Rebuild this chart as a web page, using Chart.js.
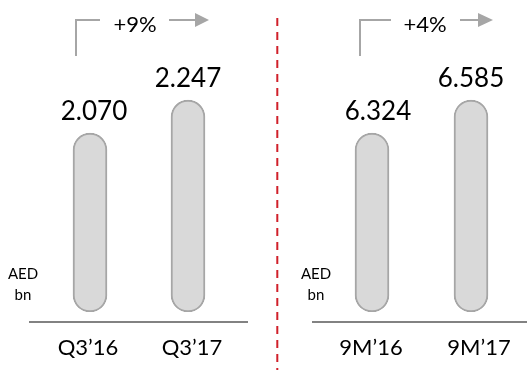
<!DOCTYPE html>
<html>
<head>
<meta charset="utf-8">
<script src="https://cdn.jsdelivr.net/npm/chart.js@4/dist/chart.umd.min.js"></script>
<style>
  html, body { margin: 0; padding: 0; background: #ffffff; }
  #wrap { position: relative; width: 527px; height: 370px; overflow: hidden; }
  #left { position: absolute; left: 0; top: 0; }
  #right { position: absolute; left: 263px; top: 0; }
</style>
</head>
<body>
<div id="wrap">
  <canvas id="left" width="263" height="370"></canvas>
  <canvas id="right" width="264" height="370"></canvas>
</div>
<script>
// ---- data ----
const leftCategories = ["Q3\u201916", "Q3\u201917"];
const leftValues = [2.070, 2.247];
const rightCategories = ["9M\u201916", "9M\u201917"];
const rightValues = [6.324, 6.585];
const growthLabels = ["+9%", "+4%"];
const unitLines = ["AED", "bn"];

// ---- styles ----
const FONT = "Lato, 'Open Sans', 'Liberation Sans', sans-serif";
const BAR_FILL = "#d9d9d9";
const BAR_BORDER = "#a6a6a6";
const ARROW = "#a6a6a6";
const TEXT = "#000000";

function makeAnnotations(cfg) {
  return {
    id: "annot",
    afterDatasetsDraw(chart) {
      const ctx = chart.ctx;
      const meta = chart.getDatasetMeta(0);
      const xs = chart.scales.x;
      ctx.save();
      // value labels
      ctx.fillStyle = TEXT;
      ctx.font = "26px " + FONT;
      ctx.textAlign = "center";
      ctx.textBaseline = "alphabetic";
      meta.data.forEach((bar, i) => {
        const v = chart.data.datasets[0].data[i];
        ctx.fillText(v.toFixed(3), bar.x + cfg.valShift[i], bar.y - 13);
      });
      // category labels
      ctx.font = "22px " + FONT;
      chart.data.labels.forEach((lab, i) => {
        ctx.fillText(lab, xs.getPixelForValue(i) + cfg.catShift[i], 355);
      });
      // baseline
      ctx.strokeStyle = "#595959";
      ctx.lineWidth = 1.3;
      ctx.beginPath();
      ctx.moveTo(cfg.baseFrom, 322);
      ctx.lineTo(cfg.baseTo, 322);
      ctx.stroke();
      // unit
      ctx.font = "15px " + FONT;
      ctx.fillText(unitLines[0], cfg.unitX, 279);
      ctx.fillText(unitLines[1], cfg.unitX, 300);
      // growth bracket + arrow
      const b0 = meta.data[0].x;
      ctx.strokeStyle = ARROW;
      ctx.lineWidth = 2;
      ctx.beginPath();
      ctx.moveTo(b0 + cfg.brX, 56);
      ctx.lineTo(b0 + cfg.brX, 20);
      ctx.lineTo(b0 + cfg.brX + cfg.brLen, 20);
      ctx.stroke();
      ctx.font = "22px " + FONT;
      ctx.fillText(cfg.growth, cfg.growthX, 32);
      ctx.beginPath();
      ctx.moveTo(cfg.arFrom, 20);
      ctx.lineTo(cfg.arHead, 20);
      ctx.stroke();
      ctx.fillStyle = ARROW;
      ctx.beginPath();
      ctx.moveTo(cfg.arHead, 13);
      ctx.lineTo(cfg.arTip, 20);
      ctx.lineTo(cfg.arHead, 27);
      ctx.closePath();
      ctx.fill();
      // divider
      if (cfg.divider !== undefined) {
        ctx.strokeStyle = "#d0202a";
        ctx.lineWidth = 2;
        ctx.setLineDash([8, 6]);
        ctx.beginPath();
        ctx.moveTo(cfg.divider, 18);
        ctx.lineTo(cfg.divider, 370);
        ctx.stroke();
      }
      ctx.restore();
    }
  };
}

function makeChart(id, labels, values, yMin, yMax, pad, cfg) {
  return new Chart(document.getElementById(id), {
    type: "bar",
    data: {
      labels: labels,
      datasets: [{
        data: values,
        base: yMin,
        backgroundColor: BAR_FILL,
        borderColor: BAR_BORDER,
        borderWidth: 2,
        borderRadius: 17,
        borderSkipped: false,
        barThickness: 34
      }]
    },
    options: {
      responsive: false,
      animation: false,
      events: [],
      layout: { padding: pad },
      plugins: { legend: { display: false }, tooltip: { enabled: false } },
      scales: {
        x: { display: false },
        y: { display: false, min: yMin, max: yMax }
      }
    },
    plugins: [makeAnnotations(cfg)]
  });
}

makeChart("left", leftCategories, leftValues, 1.110, 2.784,
  { left: 41, right: 26, top: 0, bottom: 58 },
  { catShift: [-2, 4], valShift: [4, 0], baseFrom: 29, baseTo: 248, unitX: 23,
    brX: -14, brLen: 24, growth: growthLabels[0], growthX: 135,
    arFrom: 169, arHead: 195, arTip: 209 });

makeChart("right", rightCategories, rightValues, 4.908, 7.376,
  { left: 59.5, right: 6.5, top: 0, bottom: 58 },
  { catShift: [-1, 8], valShift: [6, 0], baseFrom: 49, baseTo: 264, unitX: 53,
    brX: -12, brLen: 31, growth: growthLabels[1], growthX: 162,
    arFrom: 197, arHead: 215, arTip: 230, divider: 14.3 });
</script>
</body>
</html>
